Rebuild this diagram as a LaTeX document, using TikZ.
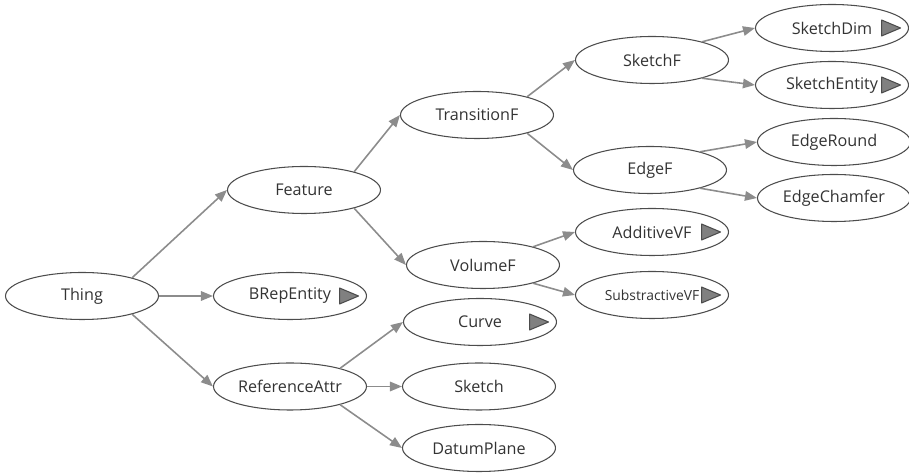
\documentclass[tikz,border=0pt]{standalone}
\usepackage{fontspec}
\setmainfont{Open Sans}
\usetikzlibrary{shapes.geometric, arrows.meta}

\tikzset{
    cls/.style={ellipse, draw=black!70, line width=0.6pt, text=black!80,
        minimum width=3.06cm, minimum height=0.94cm, inner sep=0pt},
    link/.style={draw=black!45, line width=0.9pt,
        -{Triangle[length=2.4mm,width=1.9mm]}},
    subtri/.style={fill=black!50, draw=black!70, line width=0.6pt, line join=round}
}

\begin{document}
\begin{tikzpicture}[
    x=1cm, y=1cm,
    every node/.style={font=\fontsize{9.2}{11}\selectfont},
    >=Latex
]
    \useasboundingbox (0,0) rectangle (18.18,-9.48);

    % classes
    \foreach \nm/\xc/\yc/\txt in {
        thing/1.64/-5.92/Thing,
        feature/6.08/-3.80/Feature,
        brep/5.80/-5.92/BRepEntity,
        refattr/5.80/-7.73/ReferenceAttr,
        transf/9.54/-2.30/TransitionF,
        volf/9.66/-5.30/VolumeF,
        curve/9.60/-6.44/Curve,
        sketch/9.58/-7.73/Sketch,
        datum/9.58/-8.96/DatumPlane,
        sketchf/13.04/-1.20/SketchF,
        edgef/13.00/-3.40/EdgeF,
        addvf/13.04/-4.64/AdditiveVF,
        sketchdim/16.64/-0.56/SketchDim,
        sketchent/16.64/-1.70/{SketchEntity\hspace{0.22cm}},
        edgeround/16.68/-2.84/EdgeRound,
        edgecham/16.68/-3.96/EdgeChamfer}{
        \node[cls] (\nm) at (\xc,\yc) {\txt};
    }
    \node[cls, font=\fontsize{7.9}{9}\selectfont] (subvf) at (13.04,-5.90) {SubstractiveVF\hspace{0.12cm}};

    % subclass links
    \foreach \a/\ang/\b in {
        thing/20/feature, thing/east/brep, thing/-20/refattr,
        feature/20/transf, feature/-20/volf,
        transf/20/sketchf, transf/-20/edgef,
        sketchf/20/sketchdim, sketchf/-20/sketchent,
        edgef/20/edgeround, edgef/-20/edgecham,
        volf/20/addvf, volf/-20/subvf,
        refattr/20/curve, refattr/east/sketch, refattr/-20/datum}{
        \draw[link] (\a.\ang) -- (\b.west);
    }

    % collapsed markers
    \foreach \nm in {brep, curve, addvf, subvf, sketchdim, sketchent}{
        \draw[subtri] ([xshift=-0.55cm,yshift=0.16cm]\nm.east) -- ++(0.38,-0.16)
            -- ++(-0.38,-0.16) -- cycle;
    }
\end{tikzpicture}
\end{document}
